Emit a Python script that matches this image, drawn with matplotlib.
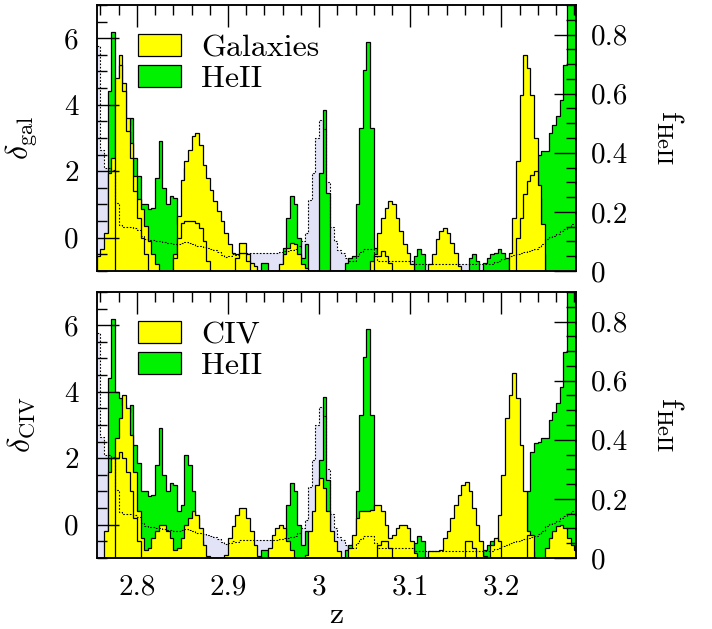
"""
plot.py - HeII transmission windows against galaxy and CIV overdensity
along the sightline, two stacked panels sharing the redshift axis.
"""

import numpy as np
import matplotlib
matplotlib.use("Agg")
import matplotlib.pyplot as plt
from matplotlib.patches import Patch
from matplotlib.ticker import MultipleLocator, FuncFormatter

# ── Redshift binning ───────────────────────────────────────────────────────────
Z_START = 2.756
BIN_WIDTH = 0.004
N_BINS = 132
Z_EDGES = Z_START + BIN_WIDTH * np.arange(N_BINS + 1)

# HeII (left axis, same in both panels); -1 is an empty bin
heii = [
    -1, -1, -1, 4.4, 6.2, 4.0, 3.8, 3.6, 3.4, 3.6,
    2.4, 1.85, 1.0, 1.0, 0.85, 0.9, 1.8, 2.9, 1.5, 1.0,
    1.25, 1.2, 0.4, 0.6, 2.1, 1.8, 1.0, 0.2, -0.5, -1,
    -1, -1, -1, -1, -1, -1, -1, -1, -1, -1,
    -1, -1, -1, -1, -1, -0.75, -0.75, -1, -1, -1,
    -1, -0.3, 0.6, 1.25, 1.0, 0.0, -0.6, -0.2, -1, -1,
    -1, 1.95, 3.85, 1.35, -1, -1, -1, -1, -0.75, -0.6,
    -0.55, 1.0, 3.3, 5.05, 5.9, 3.3, -0.3, -0.5, -1, -1,
    -1, -1, -1, -1, -1, -1, -1, -0.55, -0.35, -0.5,
    -1, -1, -1, -1, -1, -1, -1, -1, -1, -1,
    -1, -1, -0.6, -0.5, -0.7, -1, -0.75, -0.6, -0.5, -0.45,
    -0.35, -0.45, -0.6, -1, -1, -1, -1, -1, 1.0, 2.2,
    2.45, 2.5, 2.6, 2.6, 3.15, 3.4, 3.65, 4.15, 5.2, 7.5,
    7.5, 7.5,
]

# galaxy overdensity, broad and narrow smoothing
galaxies = [
    -0.55, -0.35, 0.15, 1.95, 2.4, 4.0, 5.5, 4.65, 3.6, 2.85,
    1.85, 1.15, 0.85, 0.35, -0.1, -0.5, -0.8, -1, -1, -1,
    -1, -0.5, 0.65, 1.75, 2.3, 2.65, 3.05, 3.15, 2.8, 2.2,
    1.8, 1.45, 1.1, 0.8, 0.5, 0.15, -0.2, -0.45, -0.5, -0.15,
    -0.15, -0.5, -0.75, -0.85, -1, -1, -1, -1, -1, -1,
    -0.8, -0.5, -0.3, -0.15, -0.2, -0.5, -0.8, -0.9, -1, -1,
    -1, -1, -1, -1, -1, -1, -1, -1, -1, -1,
    -1, -1, -1, -1, -1, -0.7, -0.5, 0.15, 0.6, 0.9,
    1.1, 1.0, 0.6, 0.2, -0.2, -0.45, -0.8, -1, -1, -1,
    -1, -0.8, -0.5, -0.05, 0.2, 0.3, 0.15, -0.15, -0.45, -0.85,
    -1, -1, -1, -1, -1, -1, -1, -1, -1, -1,
    -1, -1, -1, -0.45, 0.6, 2.3, 4.3, 5.5, 5.1, 4.3,
    3.0, 1.2, -0.5, -1, -1, -1, -1, -1, -1, -1,
    -1, -1,
]
galaxies_core = [
    -1, -1, -1, -1, -1, 4.8, 5.2, 4.4, 3.2, 2.4,
    1.4, 0.6, 0.0, -0.5, -1, -1, -1, -1, -1, -1,
    -1, -0.6, 0.0, 0.45, 0.5, 0.5, 0.5, 0.45, 0.3, -0.1,
    -0.7, -1, -1, -1, -1, -1, -1, -1, -0.6, -0.45,
    -0.45, -0.7, -1, -1, -1, -1, -1, -1, -1, -1,
    -1, -1, -1, -1, -1, -1, -1, -1, -1, -1,
    -1, -1, -1, -1, -1, -1, -1, -1, -1, -1,
    -1, -1, -1, -1, -1, -1, -0.55, -0.55, -0.4, -0.55,
    -0.75, -1, -1, -1, -1, -1, -1, -1, -1, -1,
    -1, -1, -1, -1, -1, -1, -1, -1, -1, -1,
    -1, -1, -1, -1, -1, -1, -1, -1, -1, -1,
    -1, -1, -1, -1, -1, 0.0, 0.6, 1.3, 1.7, 1.9,
    2.0, 1.6, 0.4, -1, -1, -1, -1, -1, -1, -1,
    -1, -1,
]

# CIV absorber overdensity, broad and narrow smoothing
civ = [
    -1, -1, -0.2, 1.6, 2.0, 2.6, 3.2, 3.9, 3.5, 2.7,
    1.6, 0.4, -0.4, -0.75, -0.7, -0.4, -0.2, 0.0, 0.0, -0.2,
    -0.4, -0.75, -0.7, -0.4, 0.0, 0.2, 0.4, 0.3, -0.1, -0.6,
    -0.95, -1, -1, -1, -1, -0.9, -0.4, -0.05, 0.3, 0.5,
    0.5, 0.2, -0.2, -0.6, -0.95, -1, -1, -0.7, -0.3, -0.1,
    0.0, -0.1, -0.5, -0.75, -1, -1, -1, -0.9, -0.2, 0.4,
    1.2, 1.4, 1.1, 0.4, -0.2, -0.5, -0.8, -1, -1, -0.7,
    -0.3, 0.2, 0.4, 0.4, 0.4, 0.45, 0.6, 0.6, 0.4, 0.0,
    -0.4, -0.3, -0.1, 0.0, 0.0, -0.1, -0.5, -0.85, -1, -1,
    -1, -0.8, -0.8, -0.8, -0.75, -0.4, -0.2, 0.2, 0.6, 0.9,
    1.2, 1.3, 1.0, 0.5, 0.0, -0.5, -0.95, -1, -1, -0.5,
    0.3, 1.5, 3.2, 3.9, 4.55, 3.8, 2.4, 1.0, -0.2, -0.8,
    -1, -1, -1, -0.7, -0.4, -0.2, -0.05, 0.0, -0.1, -0.4,
    -0.6, -0.75,
]
civ_core = [
    -1, -1, -1, -1, -1, 2.0, 2.2, 2.0, 1.6, 1.0,
    0.2, -0.5, -1, -1, -1, -1, -1, -1, -1, -1,
    -1, -1, -1, -1, -1, -1, -1, -1, -1, -1,
    -1, -1, -1, -1, -1, -1, -1, -1, -1, -1,
    -1, -1, -1, -1, -1, -1, -1, -1, -1, -1,
    -1, -1, -1, -1, -1, -1, -1, -1, -1, -1,
    -1, -1, -1, -1, -1, -1, -1, -1, -1, -1,
    -1, -1, -1, -1, -1, -1, -1, -0.6, -0.5, -0.5,
    -0.7, -1, -1, -1, -1, -1, -1, -1, -1, -1,
    -1, -1, -1, -1, -1, -1, -1, -1, -1, -1,
    -1, -0.5, -0.5, -0.7, -1, -1, -1, -1, -0.6, -0.4,
    -0.5, -1, -1, -1, -1, -1, -1, -1, -0.3, -0.3,
    -1, -1, -1, -1, -1, -1, -1, -1, -1, -1,
    -1, -1,
]

# HeII fraction (right axis)
f_heii = [
    0.76, 0.41, 0.35, 0.35, 0.34, 0.23, 0.155, 0.15, 0.15, 0.15,
    0.145, 0.14, 0.12, 0.108, 0.105, 0.105, 0.1, 0.1, 0.098, 0.096,
    0.094, 0.09, 0.09, 0.095, 0.098, 0.095, 0.09, 0.086, 0.084, 0.08,
    0.077, 0.074, 0.07, 0.065, 0.055, 0.048, 0.052, 0.056, 0.055, 0.062,
    0.062, 0.062, 0.062, 0.062, 0.062, 0.062, 0.062, 0.062, 0.062, 0.062,
    0.064, 0.066, 0.068, 0.07, 0.075, 0.085, 0.1, 0.127, 0.24, 0.33,
    0.45, 0.51, 0.48, 0.3, 0.15, 0.1, 0.07, 0.06, 0.045, 0.035,
    0.035, 0.05, 0.065, 0.075, 0.075, 0.075, 0.05, 0.035, 0.035, 0.035,
    0.035, 0.035, 0.035, 0.035, 0.035, 0.035, 0.035, 0.023, 0.023, 0.023,
    0.023, 0.023, 0.023, 0.023, 0.023, 0.023, 0.023, 0.023, 0.023, 0.023,
    0.023, 0.023, 0.023, 0.023, 0.023, 0.025, 0.025, 0.025, 0.025, 0.03,
    0.035, 0.04, 0.045, 0.05, 0.055, 0.058, 0.06, 0.064, 0.068, 0.072,
    0.076, 0.08, 0.09, 0.108, 0.115, 0.12, 0.125, 0.135, 0.143, 0.15,
    0.16, 0.16,
]

YELLOW   = "#ffff00"
GREEN    = "#00f200"
LAVENDER = "#e2e3f6"

TICK_SIZE = 21
LABEL_SIZE = 23

plt.rcParams["font.family"] = ["cmr10", "DejaVu Serif"]
plt.rcParams["mathtext.fontset"] = "cm"
plt.rcParams["axes.formatter.use_mathtext"] = True


def plain(v, _):
    return f"{v:g}"


def draw_panel(ax, tracer, tracer_core, tracer_name, ylabel, show_xlabels):
    # back layer holds the fraction fill, front layer its dotted edge and
    # the right-hand axis, so ticks and the line sit above the histograms
    ax_bg = ax.twinx()
    ax_fg = ax.twinx()
    ax_bg.set_zorder(0)
    ax.set_zorder(1)
    ax_fg.set_zorder(2)
    ax.patch.set_visible(False)
    ax_bg.set_axis_off()

    for a in (ax_bg, ax_fg):
        a.set_ylim(0, 0.9)
    ax_bg.stairs(f_heii, Z_EDGES, baseline=0, fill=True,
                 facecolor=LAVENDER, edgecolor="none")
    ax_fg.stairs(f_heii, Z_EDGES, baseline=None, color="black",
                 lw=0.8, linestyle=(0, (1.5, 1.5)))

    layers = [(heii, GREEN, 1.0), (tracer, YELLOW, 1.2), (tracer_core, YELLOW, 1.4)]
    for values, color, z in layers:
        ax.stairs(values, Z_EDGES, baseline=-1, fill=True,
                  facecolor=color, edgecolor="none", zorder=z)
        ax.stairs(values, Z_EDGES, baseline=-1, color="black",
                  lw=0.9, zorder=z + 0.1)

    ax.set_xlim(2.756, 3.282)
    ax.set_ylim(-1, 7)
    ax.xaxis.set_major_locator(MultipleLocator(0.1))
    ax.xaxis.set_minor_locator(MultipleLocator(0.02))
    ax.xaxis.set_major_formatter(FuncFormatter(plain))
    ax.yaxis.set_major_locator(MultipleLocator(2))
    ax.yaxis.set_minor_locator(MultipleLocator(0.5))
    ax.yaxis.set_major_formatter(FuncFormatter(plain))
    ax.tick_params(which="both", direction="in", top=True, bottom=False,
                   left=True, right=False, labelbottom=show_xlabels,
                   labelsize=TICK_SIZE, width=1)
    ax.tick_params(which="major", length=16)
    ax.tick_params(which="minor", length=7)
    ax.tick_params(axis="y", pad=13)
    ax.tick_params(axis="x", pad=12)

    ax_fg.yaxis.set_major_locator(MultipleLocator(0.2))
    ax_fg.yaxis.set_minor_locator(MultipleLocator(0.05))
    ax_fg.yaxis.set_major_formatter(FuncFormatter(plain))
    ax_fg.tick_params(axis="y", which="both", direction="in", right=True,
                      left=False, labelright=True, labelleft=False,
                      labelsize=TICK_SIZE, width=1, pad=11)
    ax_fg.tick_params(axis="y", which="major", length=16)
    ax_fg.tick_params(axis="y", which="minor", length=7)

    for a in (ax, ax_fg):
        for spine in a.spines.values():
            spine.set_linewidth(1.1)

    ax.text(-0.157, 0.5, ylabel, rotation=90, ha="center", va="center",
            fontsize=LABEL_SIZE, transform=ax.transAxes)
    ax_fg.text(1.195, 0.5, r"$\mathrm{f}_{\mathrm{HeII}}$", rotation=-90,
               ha="center", va="center", fontsize=LABEL_SIZE,
               transform=ax_fg.transAxes)

    handles = [Patch(facecolor=YELLOW, edgecolor="black", lw=0.9),
               Patch(facecolor=GREEN, edgecolor="black", lw=0.9)]
    ax.legend(handles, [tracer_name, "HeII"], loc="upper left",
              bbox_to_anchor=(0.085, 0.89), frameon=False,
              fontsize=LABEL_SIZE, handlelength=1.35, handleheight=0.65,
              handletextpad=0.65, labelspacing=0.1, borderpad=0,
              borderaxespad=0)
    return ax_fg


def main():
    for row in (heii, galaxies, galaxies_core, civ, civ_core, f_heii):
        assert len(row) == N_BINS

    fig = plt.figure(figsize=(7.12, 6.29), dpi=100)
    ax_top = fig.add_axes([0.136, 0.5692, 0.673, 0.4229])
    ax_bot = fig.add_axes([0.136, 0.1129, 0.673, 0.4229], sharex=ax_top)

    draw_panel(ax_top, galaxies, galaxies_core, "Galaxies",
               r"$\delta_{\mathrm{gal}}$", show_xlabels=False)
    draw_panel(ax_bot, civ, civ_core, "CIV",
               r"$\delta_{\mathrm{CIV}}$", show_xlabels=True)

    ax_bot.text(0.5, -0.215, "z", ha="center", va="center",
                fontsize=LABEL_SIZE, transform=ax_bot.transAxes)

    fig.savefig("out.png", dpi=100)
    plt.close(fig)


if __name__ == "__main__":
    main()
